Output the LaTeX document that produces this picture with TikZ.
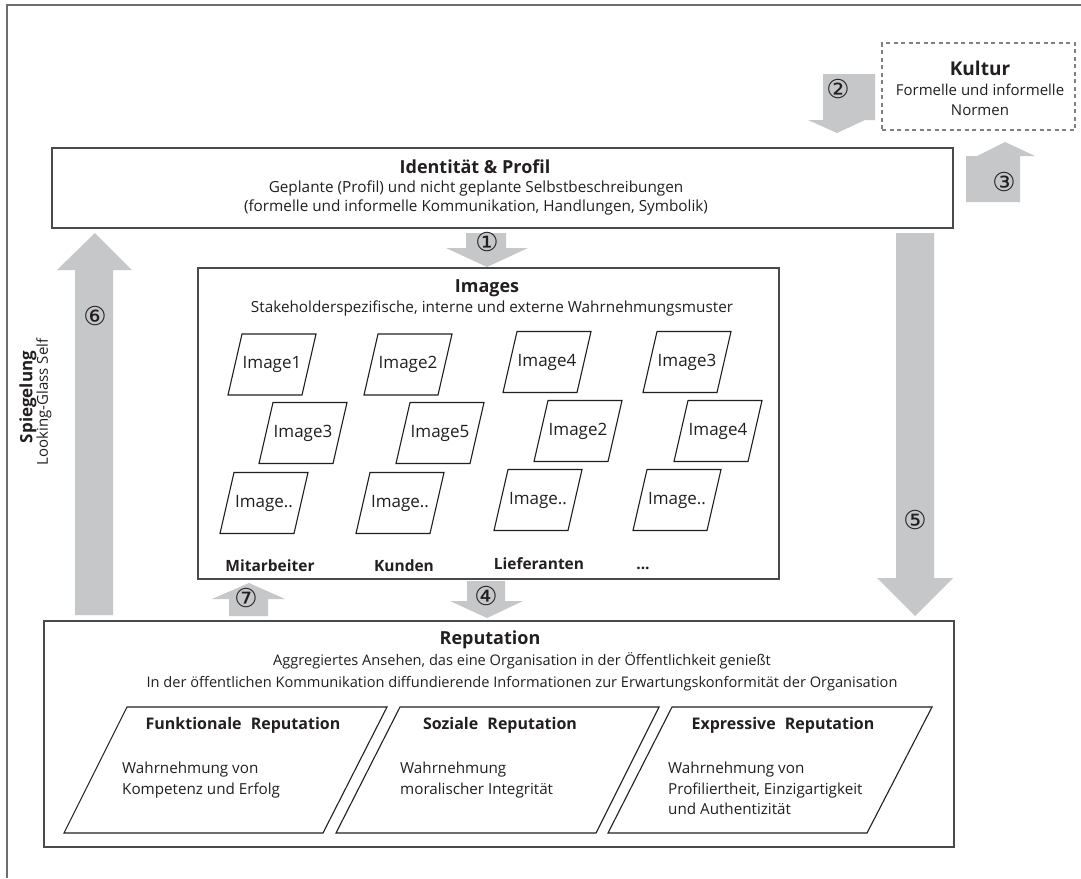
\documentclass[tikz,border=0pt]{standalone}
\usepackage{fontspec}
\setmainfont{Open Sans}
\newfontfamily\circfont{DejaVu Sans}
\definecolor{arrowgray}{HTML}{C6C7C9}
\definecolor{boxline}{HTML}{4A4A4A}
\definecolor{txt}{HTML}{231F20}
\newcommand\imgp[4]{%
  \node[imgtxt] (#1) at (#2,#3) {#4};
  \draw[pline] ([shift={(-30,-30.5)}]#1.center) -- ([shift={(44,-30.5)}]#1.center)
     -- ([shift={(30,30.5)}]#1.center) -- ([shift={(-44,30.5)}]#1.center) -- cycle;
}
\begin{document}
\begin{tikzpicture}[x=1pt,y=-1pt,
  bigbox/.style={draw=boxline, line width=1.4pt, inner sep=0pt, fill=none},
  garrow/.style={fill=arrowgray, draw=none},
  ttl/.style={font=\bfseries\fontsize{18}{21}\selectfont, text=txt, inner sep=0pt},
  sub/.style={font=\fontsize{15.3}{19.5}\selectfont, text=txt, align=center, inner sep=0pt},
  rsub/.style={font=\fontsize{14.6}{22}\selectfont, text=txt, align=center, inner sep=0pt},
  lbl/.style={font=\bfseries\fontsize{15.5}{18}\selectfont, text=txt, inner sep=0pt},
  ptl/.style={font=\bfseries\fontsize{16}{18}\selectfont, text=txt, inner sep=0pt},
  imgtxt/.style={font=\fontsize{17}{19}\selectfont, text=txt, inner sep=0pt},
  body/.style={font=\fontsize{15.2}{20.5}\selectfont, text=txt, align=left, inner sep=0pt},
  pline/.style={draw=txt, line width=1.1pt},
  circ/.style={font=\circfont\fontsize{26}{26}\selectfont, text=txt, inner sep=0pt}]
\useasboundingbox (0,0) rectangle (1081,878);
\fill[white] (0,0) rectangle (1081,878);
% outer frame
\draw[draw=boxline!80, line width=2pt] (1081,5) -- (7,5) -- (7,878);

% block arrows
\fill[garrow] (823,74) -- (875,74) -- (875,120) -- (865,120) -- (837,133) -- (808,120) -- (823,120) -- cycle;
\fill[garrow] (966,202) -- (1020,202) -- (1020,156) -- (1035,156) -- (1005,142) -- (977,156) -- (966,156) -- cycle;
\fill[garrow] (466,233) -- (506,233) -- (506,248) -- (528,248) -- (487,267) -- (446,248) -- (466,248) -- cycle;
\fill[garrow] (75,615) -- (113,615) -- (113,270) -- (132,270) -- (95,233) -- (57,270) -- (75,270) -- cycle;
\fill[garrow] (229,616) -- (268,616) -- (268,599) -- (285,599) -- (249,583) -- (212,599) -- (229,599) -- cycle;
\fill[garrow] (467,581) -- (505,581) -- (505,601) -- (523,601) -- (487,618) -- (450,601) -- (467,601) -- cycle;
\fill[garrow] (896,233) -- (934,233) -- (934,578) -- (953,578) -- (915,616) -- (877,578) -- (896,578) -- cycle;

% Kultur
\node[draw=boxline!70, line width=1.3pt, dash pattern=on 4pt off 3.5pt, minimum width=193pt, minimum height=87pt, inner sep=0pt] (kultur) at (978.5,86.5) {};
\node[ttl, font=\bfseries\fontsize{19}{21}\selectfont] (kt) at (980,68) {Kultur};
\node[sub, font=\fontsize{15}{20}\selectfont] (ks) at (980,100) {Formelle und informelle\\Normen};

% Identitaet
\node[bigbox, minimum width=901pt, minimum height=80pt] (ident) at (502.5,188) {};
\node[ttl] (it) at (475,167) {Identität \& Profil};
\node[sub] (is) at (476,198) {Geplante (Profil) und nicht geplante Selbstbeschreibungen\\(formelle und informelle Kommunikation, Handlungen, Symbolik)};

% Images
\node[bigbox, minimum width=581pt, minimum height=311pt] (images) at (488.5,423.5) {};
\node[ttl] (imt) at (487,288) {Images};
\node[sub] (ims) at (492,308) {Stakeholderspezifische, interne und externe Wahrnehmungsmuster};

\imgp{a1}{272}{364.5}{Image1}
\imgp{a2}{408}{364.5}{Image2}
\imgp{a3}{547}{362}{Image4}
\imgp{a4}{687}{362}{Image3}
\imgp{b1}{303}{433}{Image3}
\imgp{b2}{440}{433}{Image5}
\imgp{b3}{578}{431}{Image2}
\imgp{b4}{718}{431}{Image4}
\imgp{c1}{264}{503}{Image..}
\imgp{c2}{400}{503}{Image..}
\imgp{c3}{538}{500}{Image..}
\imgp{c4}{677}{500}{Image..}

\node[lbl] (m1) at (270,566) {Mitarbeiter};
\node[lbl] (m2) at (404,566) {Kunden};
\node[lbl] (m3) at (539,564) {Lieferanten};
\node[lbl] (m4) at (643,568) {...};

% Spiegelung
\node[rotate=90, inner sep=0pt, text=txt, font=\bfseries\fontsize{17}{17}\selectfont] (spieg) at (28,397) {Spiegelung};
\node[rotate=90, inner sep=0pt, text=txt, font=\fontsize{15}{15}\selectfont] (lgs) at (44,402) {Looking-Glass Self};

% Reputation
\node[bigbox, minimum width=910pt, minimum height=226pt] (repu) at (499,734) {};
\node[ttl] (rt) at (490,640) {Reputation};
\node[rsub] (rs) at (522,672) {Aggregiertes Ansehen, das eine Organisation in der Öffentlichkeit genießt\\In der öffentlichen Kommunikation diffundierende Informationen zur Erwartungskonformität der Organisation};

\draw[pline] (127,707) -- (387,707) -- (323,833) -- (64,833) -- cycle;
\draw[pline] (400,707) -- (659,707) -- (596,833) -- (336,833) -- cycle;
\draw[pline] (672,707) -- (932,707) -- (867,833) -- (608,833) -- cycle;
\node[ptl] (f1) at (243,725) {Funktionale\hspace{5pt} Reputation};
\node[ptl] (f2) at (500,725) {Soziale\hspace{5pt} Reputation};
\node[ptl] (f3) at (783,725) {Expressive\hspace{5pt} Reputation};
\node[body, anchor=north west] (g1) at (122,762) {Wahrnehmung von\\Kompetenz und Erfolg};
\node[body, anchor=north west] (g2) at (400,762) {Wahrnehmung\\moralischer Integrität};
\node[body, anchor=north west] (g3) at (668,762) {Wahrnehmung von\\Profiliertheit, Einzigartigkeit\\und Authentizität};

% circled numbers
\node[circ] (n1) at (487,242) {①};
\node[circ] (n2) at (838,89) {②};
\node[circ] (n3) at (1004,182) {③};
\node[circ] (n4) at (486,596) {④};
\node[circ] (n5) at (915,520) {⑤};
\node[circ] (n6) at (95,316) {⑥};
\node[circ] (n7) at (246,598) {⑦};
\end{tikzpicture}
\end{document}
